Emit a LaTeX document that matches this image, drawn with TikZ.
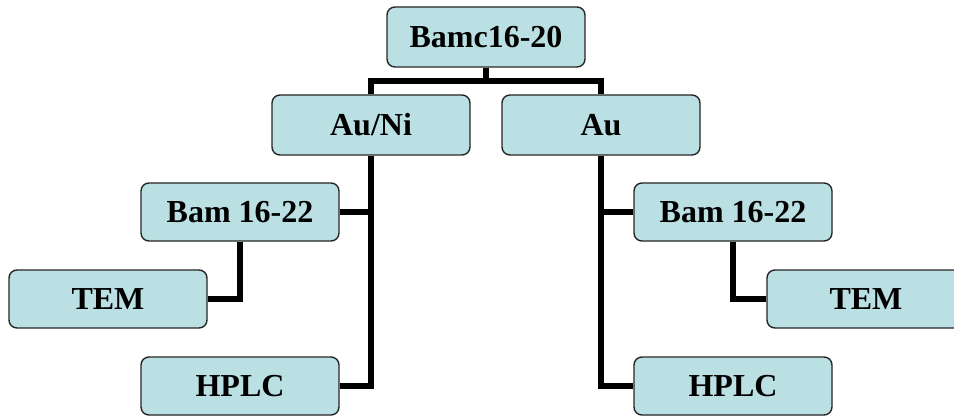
\documentclass[tikz,border=0pt]{standalone}
\usepackage{fontspec}
\setmainfont{Liberation Serif}
\begin{document}
\begin{tikzpicture}[x=1pt,y=-1pt,
  box/.style={draw=black!85,line width=1.4pt,fill=boxfill,rounded corners=8pt,
    minimum width=198pt,minimum height=58pt,inner sep=0pt,
    font=\fontsize{32}{32}\selectfont\bfseries},
  conn/.style={line width=5.5pt,draw=black}]
\definecolor{boxfill}{RGB}{187,224,227}
\path[use as bounding box,fill=white] (0,0) rectangle (954,417);
\begin{scope}
\clip (0,0) rectangle (954,417);
\node[box,minimum height=60pt] (top) at (486,37) {Bamc16-20};
\node[box,minimum height=60pt] (auni) at (371,125) {Au/Ni};
\node[box,minimum height=60pt] (au) at (601,125) {Au};
\node[box] (bamL) at (240,212) {Bam 16-22};
\node[box] (temL) at (108,299) {TEM};
\node[box] (hplcL) at (240,386) {HPLC};
\node[box] (bamR) at (733,212) {Bam 16-22};
\node[box] (temR) at (866,299) {TEM};
\node[box] (hplcR) at (733,386) {HPLC};
\coordinate (j) at (486,81);
\draw[conn] (top.south) -- (j);
\draw[conn] (auni.north) |- (j) -| (au.north);
\draw[conn] (auni.south) |- (hplcL.east);
\draw[conn] (auni.south |- bamL.east) -- (bamL.east);
\draw[conn] (bamL.south) |- (temL.east);
\draw[conn] (au.south) |- (hplcR.west);
\draw[conn] (au.south |- bamR.west) -- (bamR.west);
\draw[conn] (bamR.south) |- (temR.west);
\end{scope}
\end{tikzpicture}
\end{document}
